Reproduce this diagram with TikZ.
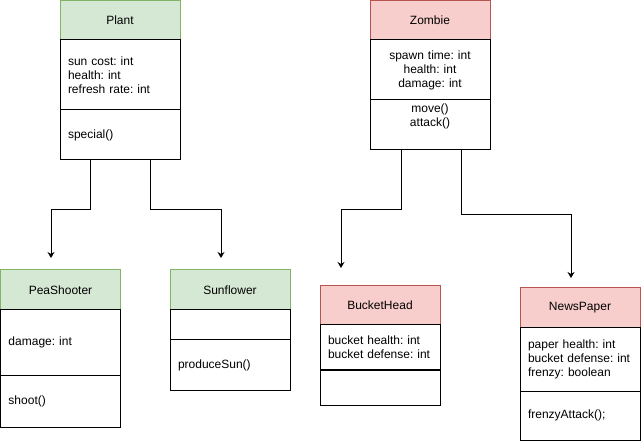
\documentclass[tikz,border=0pt]{standalone}
\usepackage{fontspec}
\setmainfont{Liberation Sans}
\usepackage{tikz}
\usetikzlibrary{arrows.meta, shapes, positioning}
\definecolor{plantfill}{HTML}{D5E8D4}
\definecolor{plantline}{HTML}{82B366}
\definecolor{zombiefill}{HTML}{F8CECC}
\definecolor{zombieline}{HTML}{B85450}
\frenchspacing

\begin{document}
\begin{tikzpicture}[x=1pt,y=-1pt,font=\fontsize{12}{14}\selectfont]
            \useasboundingbox (0,0) rectangle (641,441);
            \begin{scope}[every node/.style={rectangle,draw=black,line width=1pt,outer sep=0pt,
                          minimum width=120pt,text width=104pt,inner xsep=8pt,inner ysep=0pt,align=left},
                          plant/.style={fill=plantfill,draw=plantline,align=center},
                          zombie/.style={fill=zombiefill,draw=zombieline,align=center}]
                % plants
                \node[plant,anchor=north west,minimum height=39pt] (plant) at (60,1) {Plant};
                \node[below=0pt of plant,minimum height=70pt] (plantattr) {sun cost: int\\health: int\\refresh rate: int};
                \node[below=0pt of plantattr,minimum height=50pt] (plantmeth) {special()};

                \node[plant,anchor=north west,minimum height=40pt] (pea) at (0.5,270) {PeaShooter};
                \node[below=0pt of pea,minimum height=65pt] (peaattr) {damage: int};
                \node[below=0pt of peaattr,minimum height=52pt] (peameth) {shoot()};

                \node[plant,anchor=north west,minimum height=40pt] (sun) at (170,270) {Sunflower};
                \node[below=0pt of sun,minimum height=30pt] (sunattr) {};
                \node[below=0pt of sunattr,minimum height=50pt] (sunmeth) {produceSun()};

                % zombies
                \node[zombie,anchor=north west,minimum height=39pt] (zombie) at (370,1) {Zombie};
                \node[below=0pt of zombie,minimum height=60pt,align=center] (zombieattr) {spawn time: int\\health: int\\damage: int};
                \node[below=0pt of zombieattr,minimum height=50pt,
                      label={[anchor=north,draw=none,minimum width=0pt,minimum height=0pt,inner ysep=3.5pt,align=center]north:{move()\\attack()}}] (zombiemeth) {};

                \node[zombie,anchor=north west,minimum height=39pt] (bucket) at (320,286) {BucketHead};
                \node[below=0pt of bucket,minimum height=45pt] (bucketattr) {bucket health: int\\bucket defense: int};
                \node[below=0pt of bucketattr,minimum height=35pt] (bucketmeth) {};

                \node[zombie,anchor=north west,minimum height=40pt] (news) at (520,288) {NewsPaper};
                \node[below=0pt of news,minimum height=63pt] (newsattr) {paper health: int\\bucket defense: int\\frenzy: boolean};
                \node[below=0pt of newsattr,minimum height=49pt] (newsmeth) {frenzyAttack();};
            \end{scope}

            \begin{scope}[>={Stealth[length=6pt,width=7pt]}, line width=1pt]
                \coordinate (peatip) at (51,258);
                \coordinate (suntip) at (221,258);
                \coordinate (buckettip) at (341,268);
                \coordinate (newstip) at (571,278);
                \draw[->] ([xshift=-30pt]plantmeth.south) -- ++(0,50) -| (peatip);
                \draw[->] ([xshift=30pt]plantmeth.south) -- ++(0,50) -| (suntip);
                \draw[->] ([xshift=-29pt]zombiemeth.south) -- ++(0,60) -| (buckettip);
                \draw[->] ([xshift=31pt]zombiemeth.south) -- ++(0,65) -| (newstip);
            \end{scope}
\end{tikzpicture}
\end{document}
